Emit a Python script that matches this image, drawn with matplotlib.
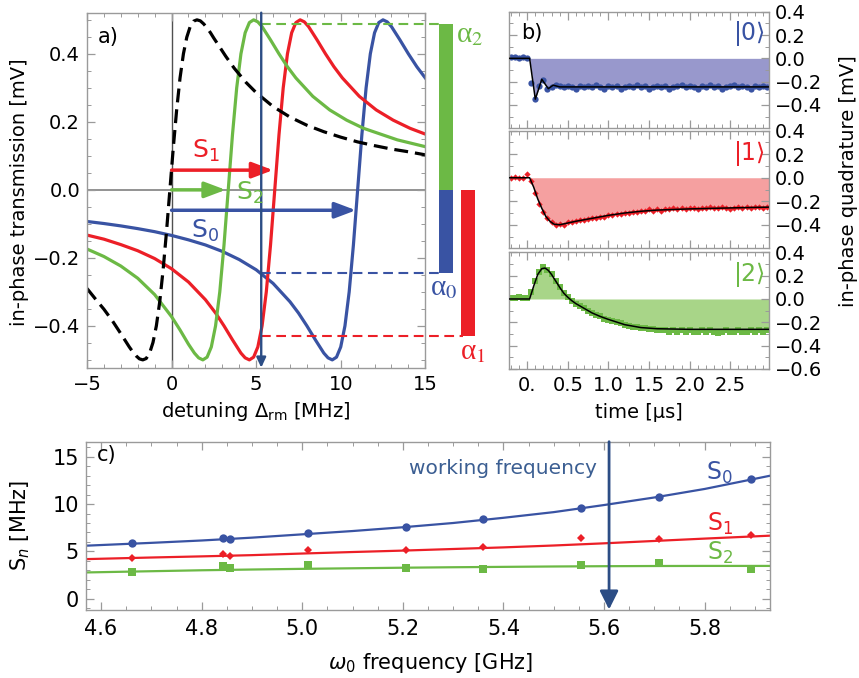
import numpy as np
import matplotlib
matplotlib.use("Agg")
import matplotlib.pyplot as plt
from matplotlib.ticker import MultipleLocator, FuncFormatter
from matplotlib.patches import Rectangle

plt.rcParams["font.family"] = ["DejaVu Sans"]
plt.rcParams["mathtext.fontset"] = "dejavusans"
plt.rcParams["lines.scale_dashes"] = False

# ---------------- data: panel a (in-phase transmission vs detuning) ----------------
a_black_x = [-5, -4.5, -4, -3.5, -3, -2.5, -2.3, -2.1, -1.9, -1.7, -1.5, -1.3, -1.1, -0.9, -0.7, -0.5,
             -0.3, -0.1, 0.1, 0.3, 0.5, 0.7, 0.9, 1.1, 1.3, 1.5, 1.7, 1.9, 2.1, 2.3, 2.5, 2.7, 3.2, 3.7,
             4.4, 5, 6, 7, 8, 9, 10, 11, 12, 13, 14, 15]
a_black_y = [-0.29, -0.321, -0.351, -0.385, -0.423, -0.462, -0.476, -0.488, -0.497, -0.5, -0.496, -0.48,
             -0.449, -0.4, -0.329, -0.235, -0.123, 0.0, 0.123, 0.235, 0.329, 0.4, 0.449, 0.48, 0.496, 0.5,
             0.497, 0.488, 0.476, 0.462, 0.446, 0.431, 0.393, 0.358, 0.316, 0.286, 0.245, 0.214, 0.19,
             0.171, 0.155, 0.141, 0.13, 0.12, 0.112, 0.103]

a_green_x = [-5, -4, -3, -2, -1, 0, 0.5, 1, 1.35, 1.6, 1.85, 2.1, 2.35, 2.6, 2.85, 3.1, 3.35, 3.6, 3.85,
             4.1, 4.35, 4.6, 4.85, 5.1, 5.35, 5.85, 6.35, 6.85, 7.35, 8.35, 9.35, 10.35, 11.35, 13.35, 15]
a_green_y = [-0.174, -0.196, -0.224, -0.26, -0.308, -0.373, -0.412, -0.454, -0.48, -0.494, -0.5, -0.492,
             -0.462, -0.4, -0.3, -0.162, 0.0, 0.162, 0.3, 0.4, 0.462, 0.492, 0.5, 0.494, 0.48, 0.441, 0.4,
             0.362, 0.329, 0.275, 0.235, 0.205, 0.181, 0.147, 0.127]

a_red_x = [-5, -4, -3, -2, -1, 0, 1, 2, 2.6, 3.1, 3.6, 4.1, 4.35, 4.6, 4.85, 5.1, 5.35, 5.6, 5.85, 6.1,
           6.35, 6.6, 6.85, 7.1, 7.35, 7.6, 7.85, 8.1, 8.6, 9.1, 9.6, 10.1, 11.1, 12.1, 13.1, 14.1, 15]
a_red_y = [-0.133, -0.145, -0.161, -0.179, -0.202, -0.232, -0.271, -0.323, -0.362, -0.4, -0.441, -0.48,
           -0.494, -0.5, -0.492, -0.462, -0.4, -0.3, -0.162, 0.0, 0.162, 0.3, 0.4, 0.462, 0.492, 0.5,
           0.494, 0.48, 0.441, 0.4, 0.362, 0.329, 0.275, 0.235, 0.205, 0.181, 0.164]

a_blue_x = [-5, -4, -3, -2, -1, 0, 1, 2, 3, 4, 5, 6, 7, 7.5, 8, 8.5, 9, 9.25, 9.5, 9.75, 10, 10.25,
            10.5, 10.75, 11, 11.25, 11.5, 11.75, 12, 12.25, 12.5, 12.75, 13, 13.5, 14, 14.5, 15]
a_blue_y = [-0.093, -0.099, -0.106, -0.114, -0.123, -0.134, -0.147, -0.162, -0.181, -0.205, -0.235,
            -0.275, -0.329, -0.362, -0.4, -0.441, -0.48, -0.494, -0.5, -0.492, -0.462, -0.4, -0.3, -0.162,
            0.0, 0.162, 0.3, 0.4, 0.462, 0.492, 0.5, 0.494, 0.48, 0.441, 0.4, 0.362, 0.329]

# shifts S_n (arrow end points) and arrow heights
shift_s1, shift_s2, shift_s0 = 6.0, 3.2, 10.9
arrow_y_s1, arrow_y_s2, arrow_y_s0 = 0.058, 0.0, -0.06
probe_detuning = 5.3
alpha0, alpha1, alpha2 = -0.245, -0.43, 0.488

# ---------------- data: panel b (time traces) ----------------
b_t = np.linspace(-0.2, 2.95, 64)
b0_data = [0.01, 0.01, 0.00, 0.01, 0.00, -0.21, -0.35, -0.24, -0.19, -0.26, -0.25, -0.23, -0.24, -0.25,
           -0.24, -0.25, -0.26, -0.24, -0.25, -0.24, -0.25, -0.23, -0.25, -0.26, -0.24, -0.25, -0.24,
           -0.26, -0.25, -0.24, -0.25, -0.23, -0.25, -0.24, -0.26, -0.25, -0.24, -0.25, -0.24, -0.26,
           -0.25, -0.24, -0.23, -0.25, -0.24, -0.25, -0.26, -0.24, -0.25, -0.23, -0.25, -0.24, -0.26,
           -0.25, -0.24, -0.23, -0.25, -0.24, -0.25, -0.26, -0.24, -0.25, -0.24, -0.25]
b1_data = [0.00, 0.01, 0.00, 0.00, 0.03, -0.03, -0.13, -0.22, -0.29, -0.34, -0.38, -0.40, -0.39, -0.40,
           -0.38, -0.38, -0.37, -0.36, -0.36, -0.35, -0.34, -0.34, -0.33, -0.33, -0.32, -0.32, -0.31,
           -0.31, -0.30, -0.30, -0.29, -0.29, -0.28, -0.28, -0.27, -0.28, -0.27, -0.28, -0.27, -0.27,
           -0.26, -0.27, -0.26, -0.27, -0.26, -0.26, -0.27, -0.26, -0.26, -0.25, -0.26, -0.26, -0.25,
           -0.26, -0.27, -0.26, -0.25, -0.26, -0.25, -0.26, -0.25, -0.25, -0.26, -0.25]
b2_data = [0.01, 0.01, 0.02, 0.01, 0.01, 0.06, 0.15, 0.23, 0.27, 0.25, 0.21, 0.15, 0.10, 0.05, 0.02,
           -0.02, -0.04, -0.06, -0.08, -0.10, -0.12, -0.14, -0.15, -0.17, -0.18, -0.19, -0.20, -0.21,
           -0.22, -0.23, -0.24, -0.24, -0.25, -0.25, -0.26, -0.26, -0.27, -0.27, -0.27, -0.28, -0.27,
           -0.28, -0.27, -0.28, -0.27, -0.28, -0.28, -0.27, -0.28, -0.27, -0.28, -0.29, -0.28, -0.27,
           -0.28, -0.28, -0.27, -0.28, -0.28, -0.27, -0.28, -0.27, -0.28, -0.27]

b0_fit_t = [-0.22, 0.03, 0.10, 0.18, 0.26, 0.32, 0.40, 2.98]
b0_fit_y = [0.0, 0.0, -0.35, -0.18, -0.26, -0.23, -0.245, -0.245]
b1_fit_t = [-0.22, 0.03, 0.08, 0.13, 0.18, 0.23, 0.28, 0.33, 0.40, 0.50, 0.60, 0.80, 1.00, 1.20, 1.40,
            1.60, 1.80, 2.00, 2.30, 2.60, 2.98]
b1_fit_y = [0.0, 0.0, -0.08, -0.18, -0.26, -0.33, -0.37, -0.395, -0.40, -0.385, -0.37, -0.345, -0.32,
            -0.30, -0.285, -0.275, -0.27, -0.265, -0.26, -0.255, -0.25]
b2_fit_t = [-0.22, 0.03, 0.08, 0.13, 0.18, 0.22, 0.26, 0.30, 0.35, 0.40, 0.45, 0.50, 0.55, 0.60, 0.70,
            0.80, 0.90, 1.00, 1.20, 1.40, 1.60, 2.00, 2.50, 2.98]
b2_fit_y = [0.0, 0.0, 0.11, 0.21, 0.26, 0.265, 0.245, 0.21, 0.155, 0.10, 0.05, 0.015, -0.015, -0.04,
            -0.08, -0.12, -0.15, -0.175, -0.22, -0.245, -0.255, -0.26, -0.26, -0.26]
b_state_labels = [r"$|0\rangle$", r"$|1\rangle$", r"$|2\rangle$"]
b_tick_vals = [0, 0.5, 1.0, 1.5, 2.0, 2.5]
b_tick_labels = ["0.", "0.5", "1.0", "1.5", "2.0", "2.5"]

# ---------------- data: panel c (S_n vs frequency) ----------------
c_freq = [4.661, 4.843, 4.857, 5.011, 5.206, 5.360, 5.554, 5.709, 5.892]
c_s0 = [5.86, 6.42, 6.28, 6.92, 7.61, 8.42, 9.55, 10.77, 12.66]
c_s1 = [4.35, 4.70, 4.53, 5.16, 5.12, 5.44, 6.45, 6.28, 6.70]
c_s2 = [2.84, 3.44, 3.23, 3.55, 3.23, 3.09, 3.55, 3.79, 3.12]
c_fit_f = [4.57, 4.7, 4.8, 4.9, 5.0, 5.1, 5.2, 5.3, 5.4, 5.5, 5.6, 5.7, 5.8, 5.93]
c_fit_s0 = [5.6, 5.9, 6.15, 6.45, 6.8, 7.15, 7.55, 8.0, 8.55, 9.15, 9.9, 10.7, 11.6, 13.0]
c_fit_s1 = [4.18, 4.35, 4.47, 4.6, 4.77, 4.93, 5.08, 5.25, 5.42, 5.62, 5.85, 6.1, 6.35, 6.66]
c_fit_s2 = [2.77, 2.9, 3.0, 3.08, 3.15, 3.21, 3.27, 3.32, 3.36, 3.4, 3.43, 3.45, 3.46, 3.46]
working_freq = 5.61

# ---------------- styles ----------------
GREEN = "#6cb945"
RED = "#ec1f27"
BLUE = "#3953a3"
NAVY = "#2c4d85"
FRAME = "#9a9a9a"
FILL = {"b": "#9898cc", "r": "#f5a0a0", "g": "#a8d588"}

W, H = 859, 678
fig = plt.figure(figsize=(W / 100, H / 100), dpi=100)


def px_axes(left, top, right, bottom):
    return fig.add_axes([left / W, 1 - bottom / H, (right - left) / W, (bottom - top) / H])


def fmt(pattern):
    def f(v, pos):
        if abs(v) < 1e-9:
            v = 0.0
        return (pattern % v).replace("-", "\u2212")
    return FuncFormatter(f)


def frame(ax, size):
    for s in ax.spines.values():
        s.set_color(FRAME)
        s.set_linewidth(1.0)
    ax.tick_params(which="both", direction="in", top=True, right=True, color=FRAME,
                   labelsize=size, pad=5)
    ax.tick_params(which="major", length=6, width=0.9)
    ax.tick_params(which="minor", length=3, width=0.7)


# ================= panel a =================
ax = px_axes(87, 12.7, 425.3, 367.7)
frame(ax, 14)
ax.set_xlim(-5, 15)
ax.set_ylim(-0.523, 0.521)
ax.xaxis.set_major_locator(MultipleLocator(5))
ax.xaxis.set_minor_locator(MultipleLocator(1))
ax.yaxis.set_major_locator(MultipleLocator(0.2))
ax.yaxis.set_minor_locator(MultipleLocator(0.05))
ax.xaxis.set_major_formatter(fmt("%d"))
ax.yaxis.set_major_formatter(fmt("%.1f"))

ax.axhline(0, color="#808080", lw=1.2, zorder=1)
ax.axvline(0, color="#505050", lw=1.0, zorder=1)

ax.plot(a_blue_x, a_blue_y, color=BLUE, lw=2.3, zorder=2)
ax.plot(a_red_x, a_red_y, color=RED, lw=2.3, zorder=2)
ax.plot(a_green_x, a_green_y, color=GREEN, lw=2.3, zorder=2)
ax.plot(a_black_x, a_black_y, color="black", lw=2.3, dashes=(10, 5), zorder=2)

for x_end, y_arr, col in [(shift_s1, arrow_y_s1, RED), (shift_s2, arrow_y_s2, GREEN),
                          (shift_s0, arrow_y_s0, BLUE)]:
    ax.annotate("", xy=(x_end, y_arr), xytext=(0, y_arr),
                arrowprops=dict(arrowstyle="-|>,head_length=0.85,head_width=0.32", color=col,
                                lw=2.5, mutation_scale=15, shrinkA=0, shrinkB=0), zorder=4)

ax.annotate("", xy=(probe_detuning, -0.523), xytext=(probe_detuning, 0.521), annotation_clip=False,
            arrowprops=dict(arrowstyle="-|>,head_length=0.6,head_width=0.28", color=NAVY,
                            lw=1.7, mutation_scale=10, shrinkA=0, shrinkB=0), zorder=4)

# dashed level lines and alpha bars (outside the frame)
ax.plot([probe_detuning, 15.8], [alpha2, alpha2], color=GREEN, lw=1.5, dashes=(7, 4), clip_on=False)
ax.plot([probe_detuning, 15.9], [alpha0, alpha0], color=BLUE, lw=1.5, dashes=(7, 4), clip_on=False)
ax.plot([probe_detuning, 17.2], [alpha1, alpha1], color=RED, lw=1.5, dashes=(7, 4), clip_on=False)
ax.add_patch(Rectangle((15.83, 0), 0.79, alpha2, color=GREEN, lw=0, clip_on=False, zorder=5))
ax.add_patch(Rectangle((15.83, alpha0), 0.79, -alpha0, color=BLUE, lw=0, clip_on=False, zorder=5))
ax.add_patch(Rectangle((17.1, alpha1), 0.83, -alpha1, color=RED, lw=0, clip_on=False, zorder=5))

alpha_kw = dict(fontsize=21, family="Liberation Serif", math_fontfamily="stix",
                ha="center", va="center")
ax.text(17.6, 0.456, "\u03b1$_2$", color=GREEN, **alpha_kw)
ax.text(16.1, -0.29, "\u03b1$_0$", color=BLUE, **alpha_kw)
ax.text(17.8, -0.476, "\u03b1$_1$", color=RED, **alpha_kw)

ax.text(2.05, 0.115, r"S$_1$", color=RED, fontsize=18, ha="center", va="center", zorder=6)
ax.text(4.65, -0.01, r"S$_2$", color=GREEN, fontsize=18, ha="center", va="center", zorder=6)
ax.text(2.0, -0.12, r"S$_0$", color=BLUE, fontsize=18, ha="center", va="center", zorder=6)
ax.text(0.062, 0.932, "a)", transform=ax.transAxes, fontsize=15, ha="center", va="center")

fig.text(20 / W, 1 - 192 / H, "in-phase transmission [mV]", rotation=90, fontsize=14,
         ha="center", va="center")
fig.text(256 / W, 1 - 411 / H, r"detuning $\Delta_{\rm rm}$ [MHz]", fontsize=14,
         ha="center", va="center")

# ================= panel b =================
rows = [(11.7, 128.3), (130.7, 248.3), (252.3, 369.0)]
b_data = [b0_data, b1_data, b2_data]
b_fit = [(b0_fit_t, b0_fit_y), (b1_fit_t, b1_fit_y), (b2_fit_t, b2_fit_y)]
b_cols = [BLUE, RED, GREEN]
b_fill = [FILL["b"], FILL["r"], FILL["g"]]
b_mark = [("o", 4.5), ("D", 3.2), ("s", 4.5)]

for i, (top, bot) in enumerate(rows):
    bx = px_axes(509.3, top, 769.3, bot)
    frame(bx, 14)
    bx.set_xlim(-0.22, 2.98)
    bx.set_ylim(-0.6, 0.4)
    bx.set_xticks(b_tick_vals)
    bx.xaxis.set_minor_locator(MultipleLocator(0.1))
    if i == 2:
        bx.set_xticklabels(b_tick_labels)
        bx.set_yticks([-0.6, -0.4, -0.2, 0.0, 0.2, 0.4])
    else:
        bx.set_xticklabels([])
        bx.set_yticks([-0.4, -0.2, 0.0, 0.2, 0.4])
    bx.yaxis.set_minor_locator(MultipleLocator(0.1))
    bx.yaxis.set_major_formatter(fmt("%.1f"))
    bx.tick_params(axis="y", labelleft=False, labelright=True, pad=4)
    ft, fy = b_fit[i]
    bx.fill_between(ft, fy, 0, color=b_fill[i], lw=0, zorder=1)
    m, ms = b_mark[i]
    bx.plot(b_t, b_data[i], ls="none", marker=m, ms=ms, color=b_cols[i], mew=0, zorder=2)
    bx.plot(ft, fy, color="black", lw=1.1, zorder=3)
    bx.text(2.93, 0.21, b_state_labels[i], color=b_cols[i], fontsize=17, ha="right", va="center")
    if i == 0:
        bx.text(0.087, 0.82, "b)", transform=bx.transAxes, fontsize=15, ha="center", va="center")

fig.text(639 / W, 1 - 413 / H, "time [\u00b5s]", fontsize=14, ha="center", va="center")
fig.text(848 / W, 1 - 181 / H, "in-phase quadrature [mV]", rotation=90, fontsize=14,
         ha="center", va="center")

# ================= panel c =================
cx = px_axes(86, 441.7, 770, 609.5)
frame(cx, 15)
cx.set_xlim(4.57, 5.93)
cx.set_ylim(-1.15, 16.6)
cx.xaxis.set_major_locator(MultipleLocator(0.2))
cx.xaxis.set_minor_locator(MultipleLocator(0.05))
cx.yaxis.set_major_locator(MultipleLocator(5))
cx.yaxis.set_minor_locator(MultipleLocator(1))
cx.xaxis.set_major_formatter(fmt("%.1f"))
cx.yaxis.set_major_formatter(fmt("%d"))
cx.tick_params(axis="x", pad=7)

cx.plot(c_fit_f, c_fit_s0, color=BLUE, lw=1.6)
cx.plot(c_fit_f, c_fit_s1, color=RED, lw=1.6)
cx.plot(c_fit_f, c_fit_s2, color=GREEN, lw=1.6)
cx.plot(c_freq, c_s0, ls="none", marker="o", ms=6, color=BLUE, mew=0)
cx.plot(c_freq, c_s1, ls="none", marker="D", ms=4, color=RED, mew=0)
cx.plot(c_freq, c_s2, ls="none", marker="s", ms=6, color=GREEN, mew=0)

cx.annotate("", xy=(working_freq, -1.15), xytext=(working_freq, 16.6), annotation_clip=False,
            arrowprops=dict(arrowstyle="-|>,head_length=0.7,head_width=0.35", color=NAVY,
                            lw=2.0, mutation_scale=16, shrinkA=0, shrinkB=0))
cx.text(5.585, 13.8, "working frequency", color="#3b5e92", fontsize=14.5, ha="right", va="center")
cx.text(5.83, 13.3, r"S$_0$", color=BLUE, fontsize=17, ha="center", va="center")
cx.text(5.83, 7.9, r"S$_1$", color=RED, fontsize=17, ha="center", va="center")
cx.text(5.83, 4.85, r"S$_2$", color=GREEN, fontsize=17, ha="center", va="center")
cx.text(0.03, 0.92, "c)", transform=cx.transAxes, fontsize=15, ha="center", va="center")

fig.text(20 / W, 1 - 525 / H, r"S$_n$ [MHz]", rotation=90, fontsize=15, ha="center", va="center")
fig.text(431 / W, 1 - 663 / H, r"$\omega_0$ frequency [GHz]", fontsize=15, ha="center", va="center")

fig.savefig("out.png", dpi=100)
